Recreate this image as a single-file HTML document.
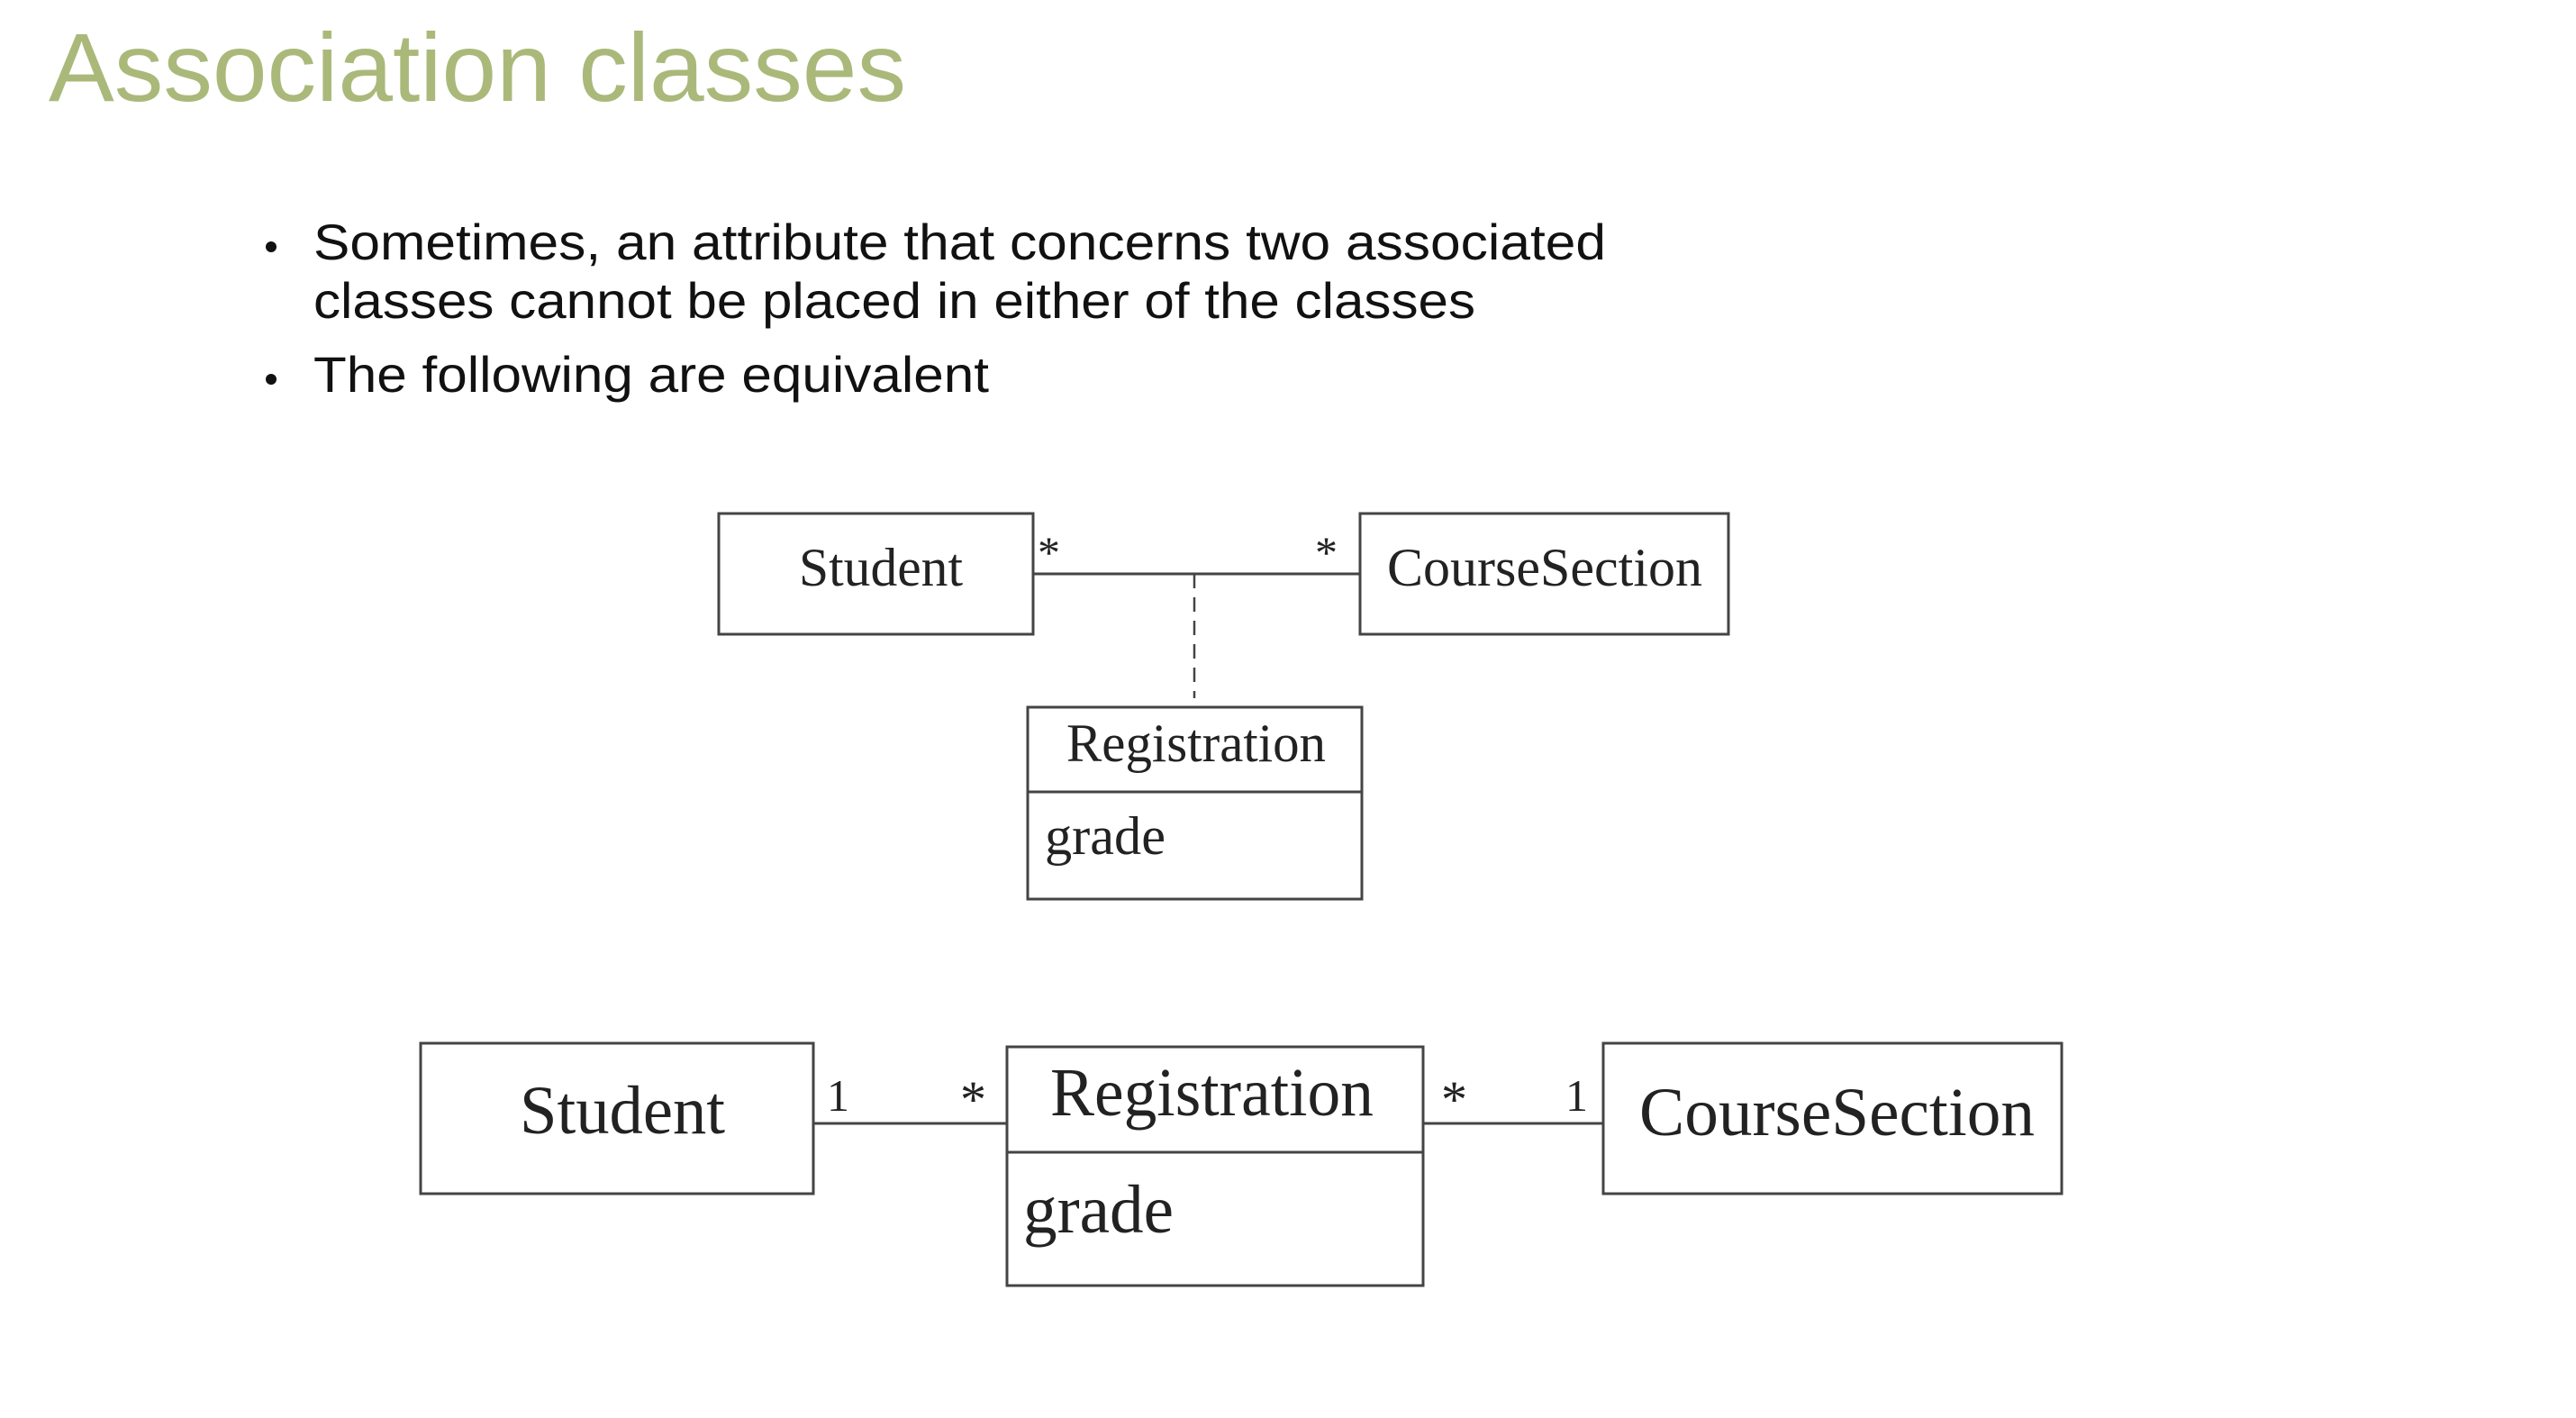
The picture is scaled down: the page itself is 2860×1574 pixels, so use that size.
<!DOCTYPE html>
<html><head><meta charset="utf-8"><style>
html,body{margin:0;padding:0;background:#fff;}
svg{display:block;}
</style></head><body>
<svg width="2860" height="1574" viewBox="0 0 2860 1574" xmlns="http://www.w3.org/2000/svg">
<rect width="2860" height="1574" fill="#fff"/>
<text x="54" y="112" font-family="Liberation Sans, sans-serif" font-size="108" fill="#aab97a" textLength="952" lengthAdjust="spacingAndGlyphs">Association classes</text>
<g font-family="Liberation Sans, sans-serif" font-size="56" fill="#111">
<circle cx="301" cy="274" r="6"/>
<text x="348" y="288" textLength="1435" lengthAdjust="spacingAndGlyphs">Sometimes, an attribute that concerns two associated</text>
<text x="348" y="353" textLength="1290" lengthAdjust="spacingAndGlyphs">classes cannot be placed in either of the classes</text>
<circle cx="301" cy="421" r="6"/>
<text x="348" y="435" textLength="750" lengthAdjust="spacingAndGlyphs">The following are equivalent</text>
</g>
<g fill="none" stroke="#444" stroke-width="3">
<rect x="798" y="570" width="349" height="134"/>
<rect x="1510" y="570" width="409" height="134"/>
<line x1="1147" y1="637" x2="1510" y2="637"/>
<line x1="1326" y1="637" x2="1326" y2="775" stroke-dasharray="16,10" stroke-width="2.5"/>
<rect x="1141" y="785" width="371" height="213"/>
<line x1="1141" y1="879" x2="1512" y2="879"/>
<rect x="467" y="1158" width="436" height="167"/>
<rect x="1118" y="1162" width="462" height="265"/>
<line x1="1118" y1="1279" x2="1580" y2="1279"/>
<rect x="1780" y="1158" width="509" height="167"/>
<line x1="903" y1="1247" x2="1118" y2="1247"/>
<line x1="1580" y1="1247" x2="1780" y2="1247"/>
</g>
<g font-family="Liberation Serif, serif" fill="#222">
<text x="887" y="650" font-size="60" textLength="182" lengthAdjust="spacingAndGlyphs">Student</text>
<text x="1540" y="650" font-size="60" textLength="350" lengthAdjust="spacingAndGlyphs">CourseSection</text>
<text x="1184" y="845" font-size="60" textLength="288" lengthAdjust="spacingAndGlyphs">Registration</text>
<text x="1160" y="948" font-size="60" textLength="134" lengthAdjust="spacingAndGlyphs">grade</text>
<text x="1152" y="630" font-size="50">*</text>
<text x="1460" y="630" font-size="50">*</text>
<text x="577" y="1258" font-size="76" textLength="228" lengthAdjust="spacingAndGlyphs">Student</text>
<text x="1166" y="1238" font-size="76" textLength="359" lengthAdjust="spacingAndGlyphs">Registration</text>
<text x="1136" y="1368" font-size="76" textLength="167" lengthAdjust="spacingAndGlyphs">grade</text>
<text x="1820" y="1260" font-size="76" textLength="439" lengthAdjust="spacingAndGlyphs">CourseSection</text>
<text x="918" y="1233" font-size="50">1</text>
<text x="1066" y="1240" font-size="58">*</text>
<text x="1600" y="1240" font-size="58">*</text>
<text x="1738" y="1233" font-size="50">1</text>
</g>
</svg>
</body></html>
